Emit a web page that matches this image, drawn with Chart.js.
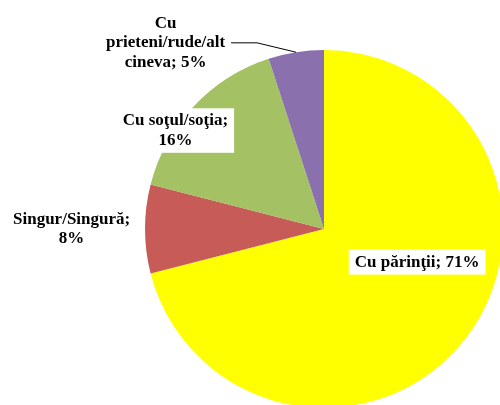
<!DOCTYPE html>
<html>
<head>
<meta charset="utf-8">
<script src="https://cdn.jsdelivr.net/npm/chart.js@4"></script>
<style>
  html, body { margin: 0; padding: 0; background: #fff; overflow: hidden; width: 500px; height: 405px; }
  #wrap { position: absolute; left: 0; top: 0; width: 520px; height: 420px; }
</style>
</head>
<body>
<div id="wrap"><canvas id="pieChart" width="520" height="420"></canvas></div>
<script>
const categories = ['Cu părinţii', 'Singur/Singură', 'Cu soţul/soţia', 'Cu prieteni/rude/alt cineva'];
const shares = [71, 8, 16, 5];
const sliceColors = ['#FFFF00', '#C65B57', '#A4C164', '#8A70AC'];

// label text lines and where they sit, in radius units from the pie centre
const labelLines = [
    ['Cu părinţii; 71%'],
    ['Singur/Singură;', '8%'],
    ['Cu soţul/soţia;', '16%'],
    ['Cu', 'prieteni/rude/alt', 'cineva; 5%']
];
const labelSpots = [[0.52, 0.185], [-1.41, 0.0], [-0.83, -0.55], [-0.885, -1.04]];
const labelBoxes = [true, false, true, false];

const labelPlugin = {
    id: 'sliceLabels',
    afterDatasetsDraw(chart) {
        const ctx = chart.ctx;
        const arcs = chart.getDatasetMeta(0).data;
        ctx.save();
        ctx.font = 'bold 17px "Liberation Serif", "Times New Roman", serif';
        ctx.textAlign = 'center';
        ctx.textBaseline = 'middle';
        const lineH = 19.5;
        arcs.forEach(function(arc, i) {
            const r = arc.outerRadius;
            const cx = arc.x + labelSpots[i][0] * r;
            const cy = arc.y + labelSpots[i][1] * r;
            const lines = labelLines[i];
            const top = cy - (lines.length - 1) * lineH / 2;
            if (labelBoxes[i]) {
                let w = 0;
                lines.forEach(function(t) { w = Math.max(w, ctx.measureText(t).width); });
                ctx.fillStyle = '#ffffff';
                ctx.fillRect(cx - w / 2 - 6, top - 12.5, w + 12, (lines.length - 1) * lineH + 25);
            }
            ctx.fillStyle = '#000000';
            lines.forEach(function(t, k) { ctx.fillText(t, cx, top + k * lineH); });

            // leader line for the small slice
            if (i === 3) {
                const mid = (arc.startAngle + arc.endAngle) / 2;
                const ex = arc.x + Math.cos(mid) * r;
                const ey = arc.y + Math.sin(mid) * r;
                const w = ctx.measureText(lines[1]).width;
                const sx = cx + w / 2 + 6;
                ctx.strokeStyle = '#000000';
                ctx.lineWidth = 1;
                ctx.beginPath();
                ctx.moveTo(sx, top + lineH);
                ctx.lineTo(sx + 26, top + lineH);
                ctx.lineTo(ex, ey);
                ctx.stroke();
            }
        });
        ctx.restore();
    }
};

new Chart(document.getElementById('pieChart'), {
    type: 'pie',
    data: {
        labels: categories,
        datasets: [{
            data: shares,
            backgroundColor: sliceColors,
            borderWidth: 0
        }]
    },
    options: {
        responsive: false,
        animation: false,
        devicePixelRatio: 1,
        layout: {
            padding: { left: 145, top: 50, right: 17, bottom: 12 }
        },
        plugins: {
            legend: { display: false },
            tooltip: { enabled: false }
        }
    },
    plugins: [labelPlugin]
});
</script>
</body>
</html>
